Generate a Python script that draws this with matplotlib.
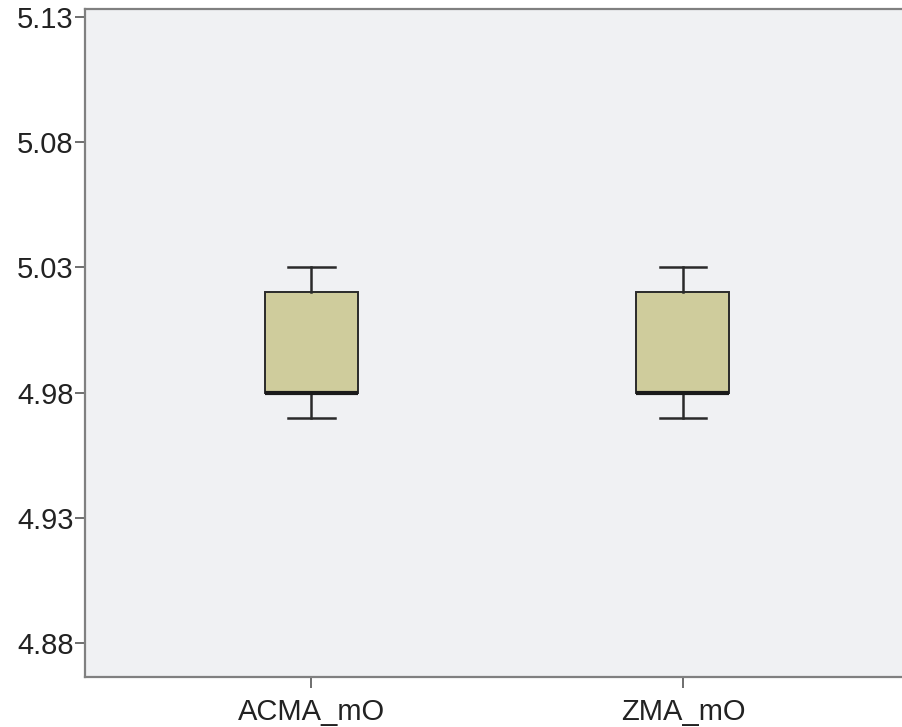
import matplotlib
matplotlib.use('Agg')
import matplotlib.pyplot as plt

plt.rcParams['font.family'] = ['Liberation Sans', 'DejaVu Sans']

# values
labels = ['ACMA_mO', 'ZMA_mO']
whis_low = [4.97, 4.97]
q1 = [4.98, 4.98]
median = [4.98, 4.98]
q3 = [5.02, 5.02]
whis_high = [5.03, 5.03]
yticks = [4.88, 4.93, 4.98, 5.03, 5.08, 5.13]

stats = []
for i in range(len(labels)):
    stats.append({'label': labels[i], 'whislo': whis_low[i], 'q1': q1[i],
                  'med': median[i], 'q3': q3[i], 'whishi': whis_high[i],
                  'fliers': []})

fig = plt.figure(figsize=(9.02, 7.27), dpi=100)
ax = fig.add_axes([0.0942, 0.0688, 0.9058, 0.9188])
ax.set_facecolor('#f0f1f3')

ax.bxp(stats, positions=[1, 2], widths=0.25, patch_artist=True,
       showfliers=False,
       boxprops=dict(facecolor='#cfcc9c', edgecolor='#2a2a2a', linewidth=1.4),
       medianprops=dict(color='#1a1a1a', linewidth=3),
       whiskerprops=dict(color='#2a2a2a', linewidth=1.8),
       capprops=dict(color='#2a2a2a', linewidth=1.8),
       capwidths=0.126)

ax.set_xlim(0.392, 2.589)
ax.set_ylim(4.8664, 5.1332)
ax.set_yticks(yticks)
ax.set_yticklabels(['%.2f' % v for v in yticks])

for s in ['left', 'bottom', 'top']:
    ax.spines[s].set_color('#808080')
    ax.spines[s].set_linewidth(1.6)
ax.spines['right'].set_visible(False)

ax.tick_params(axis='both', direction='out', length=7, width=1.2,
               color='#555555', labelsize=21, labelcolor='#222222', pad=1)
ax.tick_params(axis='x', length=8, pad=7)

fig.savefig('out.png', dpi=100)
